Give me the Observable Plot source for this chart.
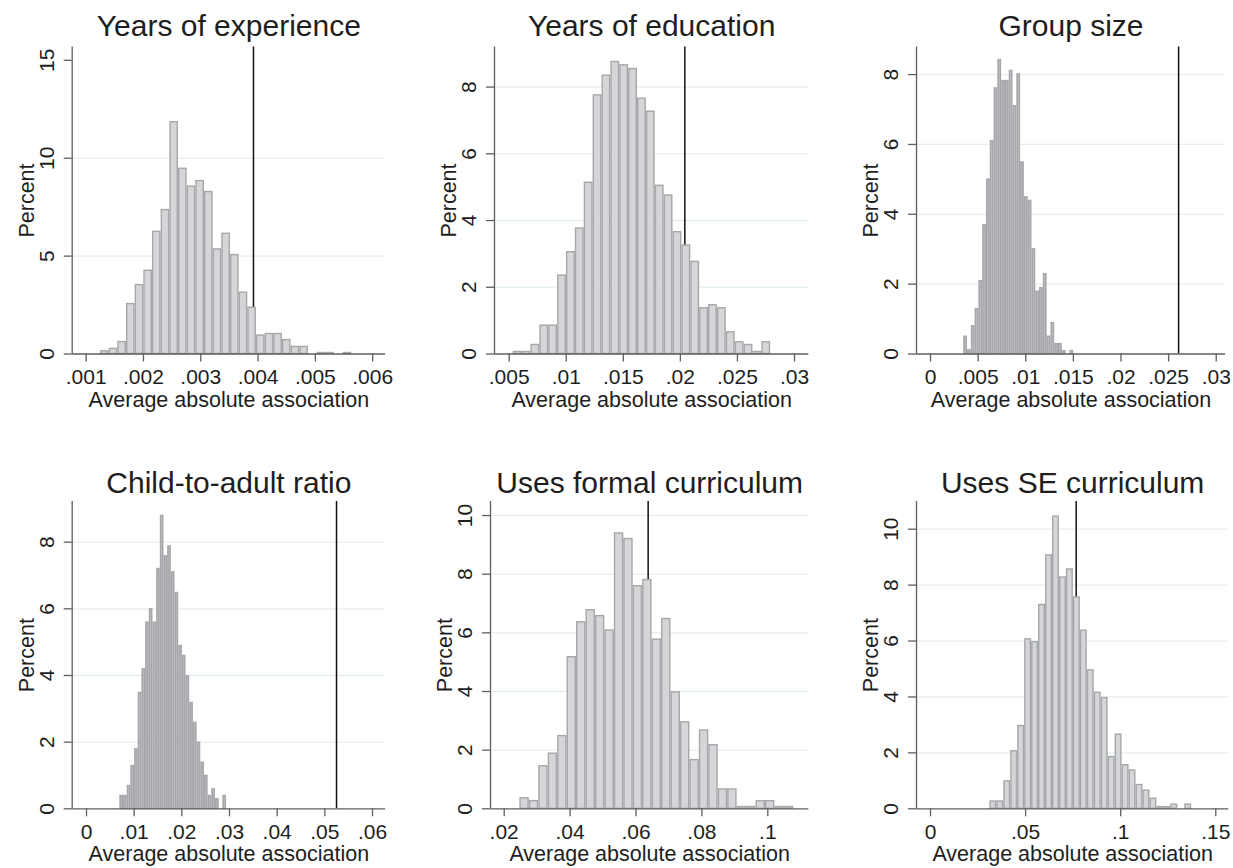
<!DOCTYPE html>
<html>
<head>
<meta charset="utf-8">
<script src="https://cdn.jsdelivr.net/npm/d3@7"></script>
<script src="https://cdn.jsdelivr.net/npm/@observablehq/plot@0.6"></script>
<style>
  html, body { margin: 0; padding: 0; background: #ffffff; }
  #chart { position: relative; width: 1233px; height: 868px; overflow: hidden; background: #ffffff; }
  #chart > svg { position: absolute; }
</style>
</head>
<body>
<div id="chart"></div>
<script>
// ---------- data ----------
const titles = ["Years of experience", "Years of education", "Group size",
                "Child-to-adult ratio", "Uses formal curriculum", "Uses SE curriculum"];
const xAxisTitle = "Average absolute association";
const yAxisTitle = "Percent";

// percent per histogram bin (29 bins per panel)
const experiencePct = [0.14,0.26,0.61,2.55,3.52,4.25,6.24,7.35,11.84,9.46,8.55,8.83,8.27,5.34,6.14,5.05,3.13,2.36,0.94,1.02,1.02,0.71,0.36,0.36,0,0.05,0.05,0,0.05];
const educationPct  = [0.06,0.06,0.27,0.85,0.85,2.35,3.05,3.76,5.13,7.75,8.34,8.75,8.65,8.54,7.65,7.26,5.04,4.75,3.65,3.25,2.76,1.37,1.46,1.37,0.65,0.35,0.27,0.06,0.35];
const groupSizePct  = [0.49,0.10,0.79,1.28,2.08,3.68,4.99,6.09,7.60,8.41,7.81,7.81,8.10,7.09,8.00,5.48,4.48,4.38,2.99,1.78,1.88,2.28,0.49,0.88,0.28,0.28,0.08,0,0.08];
const ratioPct      = [0.38,0.38,0.68,1.28,1.78,3.47,4.18,5.58,5.98,5.58,7.19,8.78,7.57,7.87,7.09,6.47,4.88,4.58,3.97,3.17,2.57,1.98,1.38,0.98,0.38,0.58,0.28,0,0.38];
const formalPct     = [0.36,0.26,1.45,1.88,2.48,5.17,6.36,6.77,6.57,6.08,9.39,9.20,7.59,7.80,5.77,6.47,3.97,2.95,1.66,2.67,2.17,0.66,0.66,0.06,0.06,0.26,0.26,0.06,0.06];
const sePct         = [0.26,0.26,0.98,2.06,2.96,6.06,5.96,7.29,9.06,10.45,8.27,8.56,7.56,6.37,4.95,4.15,3.96,1.85,2.65,1.56,1.37,0.85,0.65,0.36,0.06,0.06,0.15,0,0.15];

// lower edge of first bin and bin width, per panel
const binStarts = [0.00125, 0.00535, 0.00349, 0.00699, 0.02475, 0.0312];
const binWidths = [0.0001512, 0.000778, 0.000398, 0.000772, 0.002867, 0.00366];

// observed value (vertical line)
const observed = [0.00392, 0.02039, 0.02605, 0.05245, 0.06369, 0.07659];

// tick values
const xTicks = [
  [0.001, 0.002, 0.003, 0.004, 0.005, 0.006],
  [0.005, 0.01, 0.015, 0.02, 0.025, 0.03],
  [0, 0.005, 0.01, 0.015, 0.02, 0.025, 0.03],
  [0, 0.01, 0.02, 0.03, 0.04, 0.05, 0.06],
  [0.02, 0.04, 0.06, 0.08, 0.1],
  [0, 0.05, 0.1, 0.15]
];
const yTicks = [
  [0, 5, 10, 15],
  [0, 2, 4, 6, 8],
  [0, 2, 4, 6, 8],
  [0, 2, 4, 6, 8],
  [0, 2, 4, 6, 8, 10],
  [0, 2, 4, 6, 8, 10]
];
const gridTicks = [[5, 10], [2, 4, 6, 8], [2, 4, 6, 8], [2, 4, 6, 8], [2, 4, 6, 8, 10], [2, 4, 6, 8, 10]];

// axis ranges
const xDomains = [
  [0.000756, 0.006224],
  [0.003712, 0.031253],
  [-0.00147, 0.030974],
  [-0.0030, 0.062723],
  [0.015842, 0.11244],
  [-0.00736, 0.15684]
];
const yMaxes = [15.68, 9.2, 8.79, 9.22, 10.48, 10.99];

const series = [experiencePct, educationPct, groupSizePct, ratioPct, formalPct, sePct];

// ---------- layout & style ----------
const layout = [
  {left: 0,   top: 0,   mL: 71.7, mR: 26,   mT: 46.5, mB: 80.5, titleDy: -11, barSW: 1.4},
  {left: 411, top: 0,   mL: 83,   mR: 13.7, mT: 46.5, mB: 80.5, titleDy: -11, barSW: 1.4},
  {left: 822, top: 0,   mL: 94,   mR: 8,    mT: 46.5, mB: 80.5, titleDy: -11, barSW: 1.7},
  {left: 0,   top: 434, mL: 71.7, mR: 26,   mT: 67,   mB: 59.7, titleDy: -9,  barSW: 1.7},
  {left: 411, top: 434, mL: 79,   mR: 13.7, mT: 67,   mB: 59.7, titleDy: -9,  barSW: 1.4},
  {left: 822, top: 434, mL: 94,   mR: 4.7,  mT: 67,   mB: 59.7, titleDy: -9,  barSW: 1.4}
];
const W = 411, H = 434;
const font = "'Liberation Sans', Arial, Helvetica, sans-serif";
const textColor = "#1e1e1e";
const axisColor = "#5e5e5e";
const gridColor = "#e4eef0";
const barFill = "#d5d6d8";
const barStroke = "#a6a7aa";

const fmtX = d => d === 0 ? "0" : String(+d.toFixed(6)).replace(/^0\./, ".");

const chart = document.getElementById("chart");

series.forEach((pct, p) => {
  const L = layout[p];
  const bins = pct.map((v, i) => ({
    x1: binStarts[p] + i * binWidths[p],
    x2: binStarts[p] + (i + 1) * binWidths[p],
    pct: v
  })).filter(d => d.pct > 0);

  const svg = Plot.plot({
    width: W,
    height: H,
    marginLeft: L.mL,
    marginRight: L.mR,
    marginTop: L.mT,
    marginBottom: L.mB,
    style: {fontFamily: font, background: "transparent", color: textColor, overflow: "visible"},
    x: {domain: xDomains[p], axis: null},
    y: {domain: [0, yMaxes[p]], axis: null},
    marks: [
      Plot.gridY(gridTicks[p], {stroke: gridColor, strokeOpacity: 1, strokeWidth: 1.3}),
      Plot.ruleX([observed[p]], {stroke: "#111111", strokeWidth: 1.5}),
      Plot.rectY(bins, {
        x1: "x1", x2: "x2", y: "pct",
        fill: barFill, stroke: barStroke, strokeWidth: L.barSW,
        insetLeft: L.barSW / 2, insetRight: L.barSW / 2
      }),
      Plot.ruleX([xDomains[p][0]], {stroke: axisColor, strokeWidth: 1.3}),
      Plot.ruleY([0], {stroke: axisColor, strokeWidth: 1.3}),
      Plot.axisX({
        ticks: xTicks[p], tickFormat: fmtX, tickSize: 8, tickPadding: 7,
        fontSize: 21, stroke: axisColor, strokeWidth: 1.3, color: textColor, label: null
      }),
      Plot.axisY({
        ticks: yTicks[p], tickFormat: () => "", tickSize: 8,
        stroke: axisColor, strokeWidth: 1.3, label: null
      }),
      Plot.text(yTicks[p], {
        y: d => d, text: d => String(d), frameAnchor: "left", rotate: -90,
        dx: -18.4, lineAnchor: "bottom", textAnchor: "middle", fontSize: 21, fill: textColor
      }),
      Plot.text([yAxisTitle], {
        frameAnchor: "left", rotate: -90, dx: -38.4, lineAnchor: "bottom",
        textAnchor: "middle", fontSize: 21.5, fill: textColor
      }),
      Plot.text([xAxisTitle], {
        frameAnchor: "bottom", dy: 52.5, lineAnchor: "bottom",
        fontSize: 21.5, fill: textColor
      }),
      Plot.text([titles[p]], {
        frameAnchor: "top", dy: L.titleDy, lineAnchor: "bottom",
        fontSize: 30, fill: textColor
      })
    ]
  });
  svg.style.left = L.left + "px";
  svg.style.top = L.top + "px";
  chart.appendChild(svg);
});
</script>
</body>
</html>
